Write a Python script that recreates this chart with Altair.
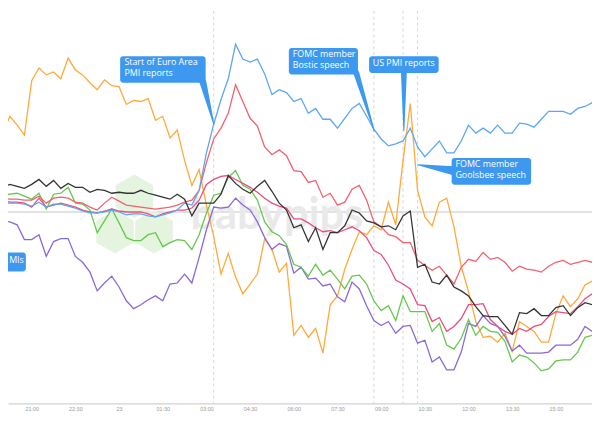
import altair as alt
import pandas as pd

# 15-minute slots, slot 0 = 20:00 (day 22), slot 16 = 00:00 (day 23)
slots = list(range(-1, 82))

orange = [67, 79, 97, 88, 78, 133, 146, 139, 142, 135, 156, 144, 139, 131, 124, 134, 128, 127, 109, 113,
          112, 115, 93, 97, 75, 83, 52, 27, 43, 7, -25, -63, -42, -66, -83, -73, -63, -27, -38, -61,
          -52, -125, -115, -127, -118, -143, -94, -85, -58, -38, -20, -23, -14, -18, 10, -13, 52, 110, 22, -5,
          -14, 10, 14, -15, -55, -81, -111, -127, -126, -132, -123, -141, -111, -116, -121, -132, -132, -103, -85, -96,
          -88, -74, -70]
blue = [9, 9, 9, 9, 8, 6, 10, 5, 8, 8, 6, 4, 1, -1, -1, 0, 2, 0, -3, -2,
        -2, -4, -5, -3, -1, 2, 9, 7, 22, 60, 89, 114, 135, 170, 155, 152, 155, 140, 119, 124,
        121, 112, 115, 100, 105, 94, 94, 85, 95, 105, 110, 97, 84, 74, 67, 69, 72, 85, 66, 56,
        64, 72, 60, 60, 72, 88, 80, 85, 80, 88, 80, 80, 90, 89, 86, 94, 102, 102, 102, 99,
        105, 107, 111]
coral = [14, 14, 13, 13, 12, 12, 16, 9, 14, 15, 14, 10, 9, 5, 2, 9, 15, 11, 7, 6,
         5, 4, 3, 4, 5, 7, 10, 12, 22, 50, 74, 85, 100, 129, 112, 95, 87, 66, 58, 63,
         57, 42, 41, 30, 32, 15, 19, 7, 10, 23, 27, 12, -10, -15, -23, -25, -31, -31, -49, -54,
         -59, -55, -64, -73, -56, -48, -50, -41, -48, -46, -51, -60, -55, -58, -59, -61, -55, -51, -49, -53,
         -51, -49, -51]
crimson = [12, 12, 10, 10, 9, 5, 14, 5, 7, 9, 7, 5, 2, 0, -1, 1, 3, 1, 0, 0,
           0, -2, -5, -2, 0, 2, 2, 4, 12, 28, 33, 36, 37, 33, 29, 25, 20, 14, 9, 6,
           4, -7, -7, -11, -16, -20, -19, -21, -18, -15, -19, -26, -39, -43, -54, -69, -73, -78, -94, -95,
           -111, -107, -121, -116, -108, -94, -94, -93, -109, -116, -121, -124, -118, -121, -116, -114, -106, -101, -102, -103,
           -96, -88, -83]
black = [22, 25, 28, 26, 24, 28, 33, 26, 32, 24, 29, 25, 25, 20, 23, 22, 19, 20, 19, 19,
         22, 19, 17, 15, 13, 18, 13, -4, 9, 9, 9, 18, 37, 29, 23, 19, 26, 32, 21, 9,
         2, -16, -13, -30, -16, -38, -21, -21, -14, 2, -1, -9, -11, -15, -14, -18, -4, 1, -56, -53,
         -71, -73, -64, -76, -80, -85, -96, -105, -106, -106, -115, -124, -102, -103, -98, -105, -105, -97, -95, -105,
         -97, -92, -94]
green = [16, 17, 18, 19, 16, 13, 19, 3, 18, 19, 25, 9, 8, 2, -21, -9, 3, -11, -26, -29,
         -29, -23, -21, -35, -31, -28, -29, -38, -23, -1, 17, 19, 35, 42, 27, 23, 12, -10, -20, -24,
         -33, -53, -56, -65, -53, -64, -59, -68, -78, -65, -64, -73, -90, -100, -95, -110, -85, -101, -101, -101,
         -121, -113, -135, -139, -128, -109, -125, -116, -121, -122, -131, -152, -145, -147, -153, -161, -159, -151, -150, -150,
         -142, -127, -125]
purple = [-8, -9, -10, -13, -28, -28, -23, -45, -30, -27, -27, -45, -51, -61, -80, -72, -65, -76, -90, -98,
          -94, -89, -85, -90, -73, -72, -63, -72, -46, -18, 5, 4, 5, 14, 7, 2, -10, -26, -38, -32,
          -35, -62, -56, -68, -67, -75, -73, -86, -91, -71, -78, -95, -110, -115, -111, -123, -116, -115, -133, -130,
          -152, -147, -160, -160, -142, -113, -116, -105, -113, -116, -126, -141, -135, -143, -143, -143, -142, -135, -135, -135,
          -129, -116, -121]

series_names = ["orange", "purple", "green", "crimson", "coral", "blue", "black"]
series_colors = ["#ffa93a", "#8a68d8", "#63c84d", "#ec4d7c", "#f2616d", "#5ca6f2", "#333333"]
series_values = {"orange": orange, "purple": purple, "green": green, "crimson": crimson,
                 "coral": coral, "blue": blue, "black": black}

tick_slots = [4, 10, 16, 22, 28, 34, 40, 46, 52, 58, 64, 70, 76]
tick_labels = ["21:00", "22:30", "23", "01:30", "03:00", "04:30", "06:00", "07:30",
               "09:00", "10:30", "12:00", "13:30", "15:00"]

event_slots = [29, 51, 55, 57]

# callout boxes (slot / value units)
box_x1 = [16.15, 39.32, 50.34, 61.68, 0.0]
box_x2 = [27.89, 48.81, 59.9, 72.6, 3.2]
box_y1 = [158, 166.3, 158, 54.7, -41]
box_y2 = [131, 139.3, 141, 27.7, -60.3]

callout_text = ["Start of Euro Area\nPMI reports", "FOMC member\nBostic speech",
                "US PMI reports", "FOMC member\nGoolsbee speech", "MIs"]
callout_x = [16.73, 39.86, 50.84, 62.2, 0.9]
callout_y = [156.0, 164.3, 155.3, 52.5, -45.0]

# pointers: base (slot, value, width) -> tip
ptr_base_x = [27.51, 48.58, 55.12, 61.86]
ptr_base_y = [132, 141, 142, 42]
ptr_tip_x = [29.02, 51.06, 55.12, 57.05]
ptr_tip_y = [88.7, 82, 82.7, 48]
ptr_width = [7, 6, 6, 9]

hex_x = [15.45, 20.8, 18.1]
hex_y = [-20, -20, 16]

rows = []
for name in series_names:
    for s, v in zip(slots, series_values[name]):
        rows.append({"slot": s, "value": v, "series": name})
df = pd.DataFrame(rows)

xs = alt.Scale(domain=[0.745, 80.96], nice=False, zero=False)
ys = alt.Scale(domain=[-194, 204], nice=False, zero=False)

label_expr = ""
for s, t in zip(tick_slots, tick_labels):
    label_expr += "datum.value == %d ? '%s' : " % (s, t)
label_expr += "''"

xaxis = alt.Axis(values=tick_slots, labelExpr=label_expr, grid=False, ticks=False,
                 domainColor="#d2d2d2", domainWidth=1.5, labelColor="#9a9a9a",
                 labelFontSize=5.5, labelPadding=3, title=None, labelFlush=False,
                 labelOverlap=False, labelFont="Liberation Sans")


def X(field):
    return alt.X(field, scale=xs, axis=xaxis)


def Y(field):
    return alt.Y(field, scale=ys, axis=None)


lines = alt.Chart(df).mark_line(strokeWidth=1.3, clip=True).encode(
    x=X("slot:Q"), y=Y("value:Q"),
    color=alt.Color("series:N", scale=alt.Scale(domain=series_names, range=series_colors), legend=None),
    order="slot:Q",
)

ev = alt.Chart(pd.DataFrame({"slot": event_slots})).mark_rule(
    color="#d4d4d4", strokeDash=[3, 3], strokeWidth=1, clip=True
).encode(x=X("slot:Q"))

zero = alt.Chart(pd.DataFrame({"value": [0]})).mark_rule(
    color="#d8d8d8", strokeWidth=1.5, clip=True
).encode(y=Y("value:Q"))

hexes = alt.Chart(pd.DataFrame({"slot": hex_x, "value": hex_y})).mark_point(
    shape="M0,-1L0.866,-0.5L0.866,0.5L0,1L-0.866,0.5L-0.866,-0.5Z",
    filled=True, size=1936, color="#e4f4de", opacity=1, clip=True
).encode(x=X("slot:Q"), y=Y("value:Q"))

wm = alt.Chart(pd.DataFrame({"slot": [25.8], "value": [-17], "t": ["babypips"]})).mark_text(
    align="left", baseline="alphabetic", font="Lato", fontWeight="bold", fontSize=44,
    color="#e9e9e9", clip=True
).encode(x=X("slot:Q"), y=Y("value:Q"), text="t:N")

prow = []
for i in range(len(ptr_base_x)):
    prow.append({"pid": i, "o": 0, "slot": ptr_base_x[i], "value": ptr_base_y[i], "w": ptr_width[i]})
    prow.append({"pid": i, "o": 1, "slot": ptr_tip_x[i], "value": ptr_tip_y[i], "w": 0})
ptrs = alt.Chart(pd.DataFrame(prow)).mark_trail(color="#3d98f0", clip=True).encode(
    x=X("slot:Q"), y=Y("value:Q"),
    size=alt.Size("w:Q", scale=alt.Scale(domain=[0, 10], range=[0, 10]), legend=None),
    detail="pid:N", order="o:Q"
)

boxes = alt.Chart(pd.DataFrame({"slot": box_x1, "x2": box_x2, "value": box_y1, "y2": box_y2})).mark_rect(
    color="#3d98f0", cornerRadius=3, clip=True
).encode(x=X("slot:Q"), x2="x2:Q", y=Y("value:Q"), y2="y2:Q")

texts = alt.Chart(pd.DataFrame({"slot": callout_x, "value": callout_y, "t": callout_text})).mark_text(
    align="left", baseline="top", font="Open Sans", fontSize=9, lineHeight=11.5, lineBreak="\n",
    color="white", clip=True
).encode(x=X("slot:Q"), y=Y("value:Q"), text="t:N")

chart = alt.layer(
    zero, ev, hexes, wm, lines, ptrs, boxes, texts
).properties(width=592, height=398, padding=0, background="white").configure_view(strokeWidth=0)

chart.save("out.html", embed_options={"renderer": "svg", "actions": False})
